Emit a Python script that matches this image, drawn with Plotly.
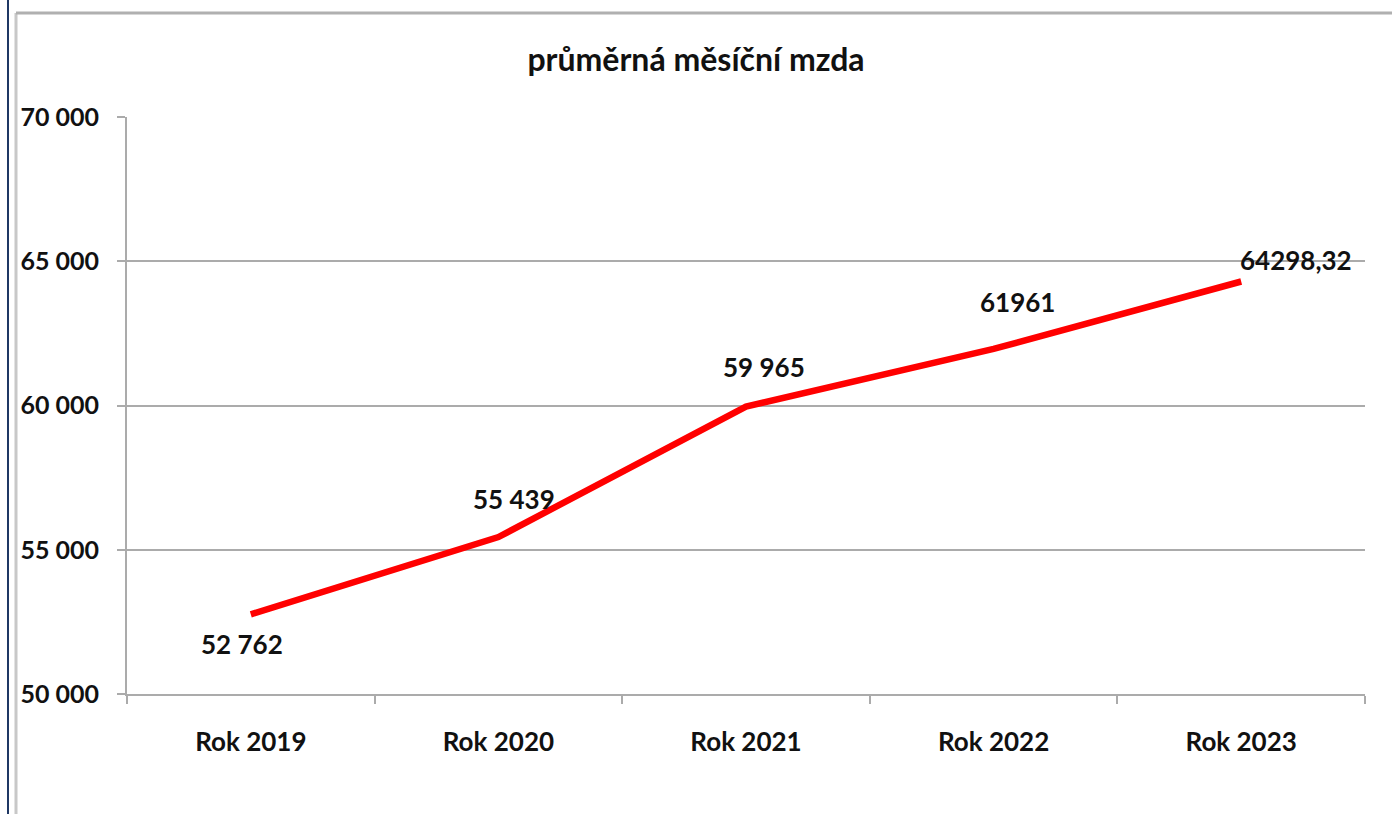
import plotly.graph_objects as go

categories = ["Rok 2019", "Rok 2020", "Rok 2021", "Rok 2022", "Rok 2023"]
values = [52762, 55439, 59965, 61961, 64298.32]
value_labels = ["52 762", "55 439", "59 965", "61961", "64298,32"]
y_ticks = [50000, 55000, 60000, 65000, 70000]
y_tick_labels = ["50 000", "55 000", "60 000", "65 000", "70 000"]
title_text = "průměrná měsíční mzda"

FONT = "Lato"

fig = go.Figure()
fig.add_trace(go.Scatter(
    x=categories, y=values, mode="lines",
    line=dict(color="#ff0000", width=6.5),
    hoverinfo="skip", showlegend=False,
))

# label offsets (pixels) per point
shifts = [(-9, -30), (16, 38), (18, 40), (24, 47), (55, 21)]
for c, v, t, (dx, dy) in zip(categories, values, value_labels, shifts):
    fig.add_annotation(x=c, y=v, text=t, showarrow=False,
                       xshift=dx, yshift=dy,
                       font=dict(family=FONT, size=26, color="#111111", weight="bold"))

gray = "#ababab"
fig.update_layout(
    width=1392, height=814,
    margin=dict(l=127, r=27, t=117, b=120),
    paper_bgcolor="white", plot_bgcolor="white",
    title=dict(text=title_text, x=0.5, xanchor="center", y=1 - 60 / 814, yanchor="middle",
               font=dict(family=FONT, size=32, color="#111111", weight="bold")),
    xaxis=dict(
        type="category", showgrid=False, showline=True, linecolor=gray, linewidth=2,
        ticks="outside", tickson="boundaries", ticklen=8, tickcolor=gray, tickwidth=2,
        tickfont=dict(family=FONT, size=26, color="#111111", weight="bold"),
        range=[-0.5, 4.5], ticklabelstandoff=24,
    ),
    yaxis=dict(
        range=[50000, 70000], tickvals=y_ticks, ticktext=y_tick_labels,
        showgrid=True, gridcolor=gray, gridwidth=2,
        showline=True, linecolor=gray, linewidth=2,
        ticks="outside", ticklen=8, tickcolor=gray, tickwidth=2,
        tickfont=dict(family=FONT, size=25, color="#111111", weight="bold"),
        zeroline=False, ticklabelstandoff=13,
    ),
    shapes=[
        # outer chart frame (left and top edges)
        dict(type="line", xref="paper", yref="paper",
             x0=(16 - 127) / 1238, x1=(16 - 127) / 1238, y0=(694 - 814) / 577, y1=(694 - 13) / 577,
             line=dict(color="#c8c8c8", width=3)),
        dict(type="line", xref="paper", yref="paper",
             x0=(16 - 127) / 1238, x1=(1392 - 127) / 1238, y0=(694 - 13) / 577, y1=(694 - 13) / 577,
             line=dict(color="#b0b0b0", width=3)),
        dict(type="line", xref="paper", yref="paper",
             x0=(8 - 127) / 1238, x1=(8 - 127) / 1238, y0=(694 - 814) / 577, y1=(694 + 10) / 577,
             line=dict(color="#1f3864", width=2)),
    ],
)

fig.write_html("out.html", config={"displayModeBar": False},
               post_script="document.body.style.margin='0';")
